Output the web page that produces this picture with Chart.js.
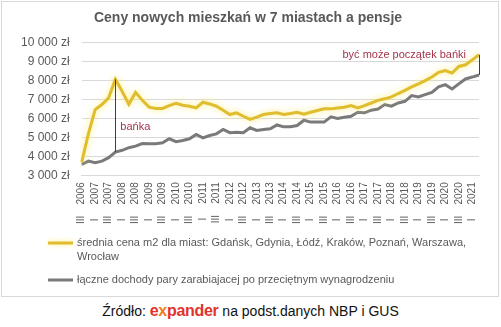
<!DOCTYPE html>
<html>
<head>
<meta charset="utf-8">
<script src="https://cdn.jsdelivr.net/npm/chart.js@4"></script>
<style>
  body { margin: 0; background: #fff; width: 501px; height: 327px; position: relative; overflow: hidden; }
  #box { position: absolute; left: 1px; top: 1px; width: 496px; height: 294px; border: 1px solid #d9d9d9; }
  #src { position: absolute; left: 0; top: 302px; width: 501px; text-align: center;
         font: 14px 'Liberation Sans', Arial, sans-serif; color: #111; }
  .logo { font-weight: bold; font-size: 16px; color: #e2332b; letter-spacing: -0.3px; }
  .logo .x { color: #f07a1a; }
</style>
</head>
<body>
<div id="box"><canvas id="chart" width="496" height="294"></canvas></div>
<div id="src">Źródło: <span class="logo">e<span class="x">x</span>pander</span> na podst.danych NBP i GUS</div>
<script>
// quarters III 2006 .. II 2021
const quarters = [
  'III 2006', 'IV 2006',
  'I 2007', 'II 2007', 'III 2007', 'IV 2007',
  'I 2008', 'II 2008', 'III 2008', 'IV 2008',
  'I 2009', 'II 2009', 'III 2009', 'IV 2009',
  'I 2010', 'II 2010', 'III 2010', 'IV 2010',
  'I 2011', 'II 2011', 'III 2011', 'IV 2011',
  'I 2012', 'II 2012', 'III 2012', 'IV 2012',
  'I 2013', 'II 2013', 'III 2013', 'IV 2013',
  'I 2014', 'II 2014', 'III 2014', 'IV 2014',
  'I 2015', 'II 2015', 'III 2015', 'IV 2015',
  'I 2016', 'II 2016', 'III 2016', 'IV 2016',
  'I 2017', 'II 2017', 'III 2017', 'IV 2017',
  'I 2018', 'II 2018', 'III 2018', 'IV 2018',
  'I 2019', 'II 2019', 'III 2019', 'IV 2019',
  'I 2020', 'II 2020', 'III 2020', 'IV 2020',
  'I 2021', 'II 2021'
];

const priceM2 = [
  3700, 5200, 6470, 6740, 7090, 8070, 7440, 6750, 7380, 6960,
  6600, 6530, 6530, 6680, 6800, 6700, 6650, 6560, 6860, 6770,
  6650, 6440, 6210, 6300, 6120, 5950, 6070, 6210, 6260, 6300,
  6210, 6260, 6330, 6230, 6330, 6420, 6510, 6510, 6560, 6600,
  6680, 6560, 6680, 6820, 6960, 7040, 7140, 7320, 7490, 7670,
  7830, 8000, 8190, 8440, 8530, 8400, 8750, 8840, 9100, 9370
];

const coupleIncome = [
  3580, 3750, 3670, 3750, 3930, 4230, 4320, 4460, 4540, 4680,
  4670, 4670, 4720, 4930, 4780, 4840, 4930, 5160, 4980, 5100,
  5190, 5420, 5250, 5280, 5250, 5510, 5370, 5420, 5460, 5660,
  5560, 5560, 5630, 5910, 5810, 5810, 5810, 6090, 6000, 6070,
  6120, 6330, 6300, 6440, 6500, 6740, 6650, 6820, 6910, 7210,
  7140, 7260, 7380, 7670, 7790, 7560, 7830, 8090, 8190, 8300
];

const seriesNames = [
  'średnia cena m2 dla miast: Gdańsk, Gdynia, Łódź, Kraków, Poznań, Warszawa, Wrocław',
  'łączne dochody pary zarabiajacej po przeciętnym wynagrodzeniu'
];

// gap markers: quarter index + note
const gapIndex = [5, 59];
const gapNotes = ['bańka', 'być może początek bańki'];

const yMin = 3000, yMax = 10000, yStep = 1000;

const FONT = "'Liberation Sans', Arial, sans-serif";
const GREY_TXT = '#595959';

function fmtZl(v) {
  return String(v).replace(/\B(?=(\d{3})+(?!\d))/g, ' ') + ' zł';
}

// soft yellow glow like the Excel line effect
const glowPlugin = {
  id: 'glow',
  beforeDatasetDraw(chart, args) {
    const ctx = chart.ctx;
    ctx.save();
    if (args.index === 0) {
      ctx.shadowColor = 'rgba(255, 236, 120, 0.95)';
      ctx.shadowBlur = 6;
    }
  },
  afterDatasetDraw(chart) {
    chart.ctx.restore();
  }
};

const gapPlugin = {
  id: 'gaps',
  afterDatasetsDraw(chart) {
    const { ctx, scales: { x, y } } = chart;
    ctx.save();
    gapIndex.forEach((idx, n) => {
      const px = x.getPixelForValue(idx);
      const yTop = y.getPixelForValue(priceM2[idx]);
      const yBot = y.getPixelForValue(coupleIncome[idx]);
      ctx.strokeStyle = '#6e2a2a';
      ctx.lineWidth = 1;
      ctx.beginPath();
      ctx.moveTo(Math.round(px) + 0.5, yTop);
      ctx.lineTo(Math.round(px) + 0.5, yBot);
      ctx.stroke();

      ctx.fillStyle = '#a3354a';
      ctx.font = '11px ' + FONT;
      ctx.textBaseline = 'middle';
      if (n === 0) {
        ctx.textAlign = 'left';
        ctx.fillText(gapNotes[n], px + 5, yBot - 25);
      } else {
        ctx.textAlign = 'right';
        ctx.fillText(gapNotes[n], px - 13, yTop);
      }
    });
    ctx.restore();
  }
};

// legend under the axis, wrapping the long label
const legendPlugin = {
  id: 'bottomLegend',
  afterDraw(chart) {
    const ctx = chart.ctx;
    const maxW = 392;
    let yy = chart.scales.x.bottom + 12;
    ctx.save();
    ctx.font = '11px ' + FONT;
    ctx.textBaseline = 'middle';
    ctx.textAlign = 'left';
    chart.data.datasets.forEach((ds, i) => {
      const words = ds.label.split(' ');
      const lines = [];
      let cur = '';
      words.forEach(w => {
        const t = cur ? cur + ' ' + w : w;
        if (ctx.measureText(t).width > maxW && cur) {
          lines.push(cur);
          cur = w;
        } else {
          cur = t;
        }
      });
      lines.push(cur);

      ctx.save();
      if (i === 0) {
        ctx.shadowColor = 'rgba(255, 236, 120, 0.95)';
        ctx.shadowBlur = 5;
      }
      ctx.strokeStyle = ds.borderColor;
      ctx.lineWidth = 3;
      ctx.beginPath();
      ctx.moveTo(46, yy);
      ctx.lineTo(71, yy);
      ctx.stroke();
      ctx.restore();

      ctx.fillStyle = GREY_TXT;
      lines.forEach((ln, k) => ctx.fillText(ln, 75, yy + k * 14));
      yy += (lines.length - 1) * 14 + 23;
    });
    ctx.restore();
  }
};

new Chart(document.getElementById('chart'), {
  type: 'line',
  data: {
    labels: quarters,
    datasets: [
      {
        label: seriesNames[0],
        data: priceM2,
        borderColor: '#dfbd2e',
        borderWidth: 3,
        pointRadius: 0,
        tension: 0
      },
      {
        label: seriesNames[1],
        data: coupleIncome,
        borderColor: '#7a7a7a',
        borderWidth: 3,
        pointRadius: 0,
        tension: 0
      }
    ]
  },
  options: {
    responsive: false,
    animation: false,
    layout: { padding: { left: 7, right: 11, top: 0, bottom: 65 } },
    plugins: {
      legend: { display: false },
      tooltip: { enabled: false },
      title: {
        display: true,
        text: 'Ceny nowych mieszkań w 7 miastach a pensje',
        color: GREY_TXT,
        font: { family: FONT, size: 14, weight: 'bold' },
        padding: { top: 8, bottom: 16 }
      }
    },
    scales: {
      x: {
        grid: { display: false, drawTicks: false },
        border: { display: true, color: '#d9d9d9' },
        ticks: {
          autoSkip: false,
          minRotation: 90,
          maxRotation: 90,
          padding: 7,
          color: GREY_TXT,
          font: { family: FONT, size: 10 },
          callback: function (value, index) {
            if (index % 2 !== 0) return '';
            const [q, yr] = quarters[index].split(' ');
            return q + ' '.repeat(q === 'I' ? 5 : 4) + yr;
          }
        }
      },
      y: {
        min: yMin,
        max: yMax,
        grid: { color: '#d9d9d9', drawTicks: false },
        border: { display: false },
        ticks: {
          stepSize: yStep,
          padding: 12,
          color: GREY_TXT,
          font: { family: FONT, size: 12 },
          callback: v => fmtZl(v)
        }
      }
    }
  },
  plugins: [glowPlugin, gapPlugin, legendPlugin]
});
</script>
</body>
</html>
